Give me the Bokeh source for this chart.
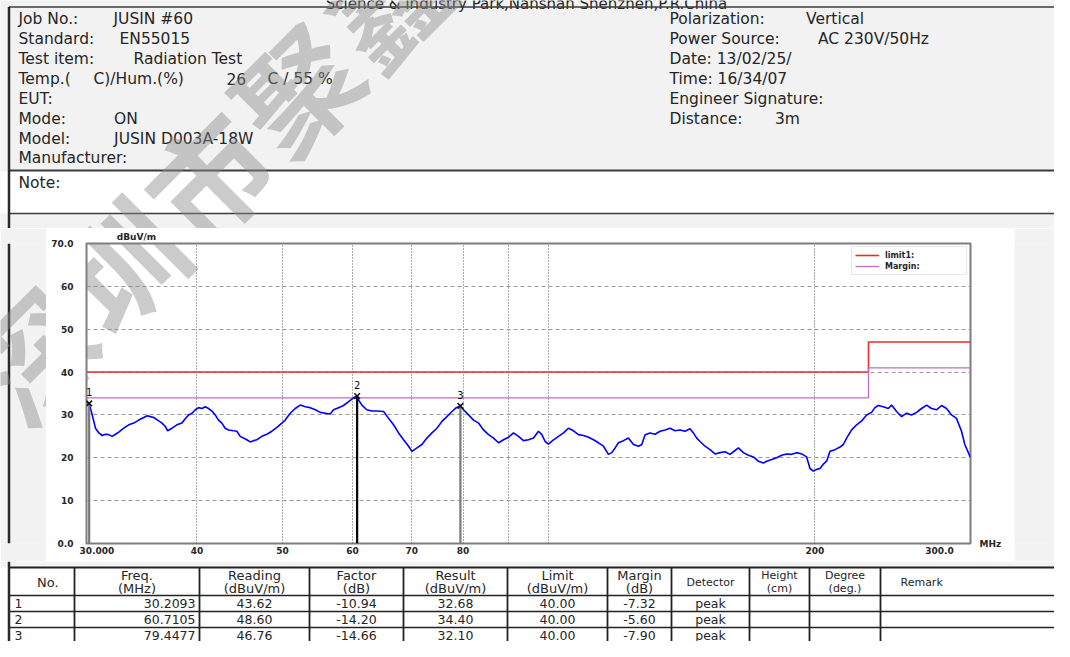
import math
from bokeh.plotting import figure
from bokeh.models import Range1d, FixedTicker, Label, LogAxis, LinearAxis
from bokeh.layouts import column, row
from bokeh.embed import file_html
from bokeh.resources import INLINE
from bokeh.core.properties import value

# ---------------- data ----------------
trace_freq = [30.00, 30.21, 30.45, 30.71, 30.98, 31.25, 31.52, 31.79, 32.07, 32.35, 32.63, 33.06,
              33.49, 33.93, 34.37, 34.83, 35.13, 35.43, 35.74, 36.21, 36.52, 36.84, 37.06, 37.48,
              37.97, 38.47, 38.80, 39.14, 39.49, 39.83, 40.17, 40.52, 40.88, 41.23, 41.59, 41.95,
              42.31, 42.68, 43.05, 43.43, 44.00, 44.38, 44.77, 45.16, 45.55, 45.95, 46.35, 46.75,
              47.37, 47.99, 48.62, 49.26, 49.90, 50.34, 51.00, 51.67, 52.35, 53.04, 53.73, 54.44,
              55.15, 55.87, 56.60, 57.09, 57.84, 58.60, 59.37, 60.14, 60.71, 60.93, 61.46, 62.26,
              63.08, 63.91, 65.04, 65.89, 66.75, 67.63, 68.52, 69.41, 70.02, 70.94, 71.87, 72.81,
              73.77, 74.74, 75.72, 76.71, 77.72, 78.60, 79.45, 80.10, 81.15, 82.21, 83.29, 84.38,
              85.49, 86.61, 87.74, 88.89, 90.06, 91.24, 92.43, 93.64, 94.87, 96.11, 97.37, 98.22,
              99.07, 99.94, 101.25, 102.58, 103.92, 105.28, 106.66, 108.06, 109.47, 110.91, 112.36,
              113.83, 115.32, 116.83, 117.85, 118.88, 119.91, 121.48, 123.07, 124.69, 126.32,
              127.42, 128.53, 130.21, 131.92, 133.64, 135.40, 137.17, 138.97, 140.79, 142.64,
              144.50, 145.76, 147.03, 148.31, 150.26, 152.22, 154.22, 156.24, 158.28, 160.36,
              162.46, 163.87, 166.02, 168.20, 170.40, 172.64, 174.90, 176.42, 178.74, 181.08,
              183.45, 185.85, 188.29, 190.75, 193.25, 195.78, 197.49, 199.21, 200.95, 202.70,
              204.47, 206.25, 208.05, 210.78, 213.54, 215.40, 217.27, 220.12, 223.00, 225.92,
              228.88, 231.87, 233.89, 235.93, 239.02, 242.15, 244.26, 247.46, 250.70, 253.98,
              257.31, 260.68, 264.09, 267.55, 271.05, 274.60, 278.19, 281.84, 285.53, 289.26,
              293.05, 295.60, 299.50, 300.00]
trace_level = [32.9, 32.7, 30.0, 26.9, 25.8, 25.2, 25.5, 25.4, 25.0, 25.5, 26.0, 26.9,
               27.7, 28.1, 28.8, 29.4, 29.8, 29.6, 29.4, 28.6, 28.1, 27.3, 26.3, 26.9,
               27.7, 28.1, 29.1, 30.0, 30.4, 31.2, 31.7, 31.5, 31.9, 31.5, 30.9, 30.0,
               28.8, 28.1, 26.9, 26.5, 26.3, 26.2, 25.0, 24.6, 24.2, 23.7, 24.0, 24.2,
               25.0, 25.5, 26.2, 27.1, 28.1, 28.8, 30.4, 31.5, 32.3, 31.9, 31.7, 31.2,
               30.6, 30.4, 30.2, 31.2, 31.7, 32.2, 33.1, 34.0, 34.4, 33.5, 32.3, 31.2,
               30.9, 30.9, 30.8, 29.2, 27.7, 25.8, 24.2, 22.7, 21.5, 22.3, 23.1, 24.6,
               25.8, 26.9, 28.5, 29.6, 30.8, 31.7, 32.1, 31.2, 30.0, 28.8, 28.1, 26.5,
               25.4, 24.6, 23.5, 24.2, 24.8, 25.8, 25.0, 24.0, 24.2, 24.6, 26.2, 25.4,
               23.8, 23.2, 24.2, 25.0, 25.8, 26.9, 26.3, 25.4, 25.2, 24.8, 24.2,
               23.5, 22.7, 20.8, 21.2, 22.3, 23.5, 24.0, 24.6, 23.1, 22.7,
               23.1, 25.4, 25.8, 25.5, 26.2, 26.5, 26.9, 26.3, 26.5, 26.2,
               26.8, 25.8, 24.6, 23.8, 22.7, 21.9, 20.9, 21.2, 21.4, 20.8,
               21.7, 22.3, 21.2, 20.6, 20.2, 19.2, 18.8, 19.2, 19.6, 20.0,
               20.6, 20.9, 20.8, 21.2, 20.9, 20.2, 17.5, 16.9, 17.3, 17.5,
               18.5, 19.2, 21.5, 21.9, 22.5, 23.1, 24.6, 26.5, 27.7, 28.6,
               30.0, 30.6, 31.7, 32.2, 31.9, 31.5, 32.3, 30.8, 29.6, 30.4,
               30.0, 30.6, 31.5, 32.3, 31.5, 31.2, 32.2, 31.5, 30.0, 29.2,
               26.2, 23.1, 20.4, 20.2]

limit_freq = [30, 230, 230, 300]
limit_level = [40, 40, 47, 47]
margin_level = [34, 34, 41, 41]

marker_no = ["1", "2", "3"]
marker_freq = [30.2093, 60.7105, 79.4477]
marker_reading = [43.62, 48.60, 46.76]
marker_factor = [-10.94, -14.20, -14.66]
marker_result = [32.68, 34.40, 32.10]
marker_limit = [40.00, 40.00, 40.00]
marker_margin = [-7.32, -5.60, -7.90]
marker_detector = ["peak", "peak", "peak"]

x_tick_text = ["30.000", "40", "50", "60", "70", "80", "200", "300.0"]
x_tick_at = [30.83, 40, 50, 60, 70, 80, 200, 276.7]   # where each label is centred
x_grid_values = [40, 50, 60, 70, 80, 90, 100, 200]
y_tick_values = [0, 10, 20, 30, 40, 50, 60, 70]
y_tick_text = ["0.0", "10", "20", "30", "40", "50", "60", "70.0"]
y_grid_values = [10, 20, 30, 40, 50, 60]
y_unit = "dBuV/m"
x_unit = "MHz"

header_left_labels = ["Job No.:", "Standard:", "Test item:", "Temp.(", "EUT:", "Mode:", "Model:", "Manufacturer:"]
header_left_values = ["JUSIN #60", "EN55015", "Radiation Test", "", "", "ON", "JUSIN D003A-18W", ""]
temp_pieces = ["C)/Hum.(%)", "26", "C / 55 %"]
header_right_labels = ["Polarization:", "Power Source:", "Date: 13/02/25/", "Time: 16/34/07", "Engineer Signature:", "Distance:"]
header_right_values = ["Vertical", "AC 230V/50Hz", "", "", "", "3m"]
top_caption = "Science & Industry Park,Nanshan Shenzhen,P.R.China"

table_head1 = ["No.", "Freq.", "Reading", "Factor", "Result", "Limit", "Margin", "Detector", "Height", "Degree", "Remark"]
table_head2 = ["", "(MHz)", "(dBuV/m)", "(dB)", "(dBuV/m)", "(dBuV/m)", "(dB)", "", "(cm)", "(deg.)", ""]

watermark_chars = ["深", "圳", "市", "聚", "鑫"]

# ---------------- layout constants (page pixels) ----------------
GRAY = "#f2f2f2"
INK = "#262626"
FONT = value("DejaVu Sans")
FX0, FX1 = 86.0, 970.0
FY70, FY0 = 243.0, 543.0
ROWS = [18.0, 38.5, 58.7, 78.7, 98.5, 118.3, 138.0, 157.0]
LEFT_VAL_X = [113, 119, 133, 0, 0, 113.6, 113.6, 0]
TEMP_X = [93, 226, 267]
RIGHT_VAL_X = [805.5, 817.5, 0, 0, 0, 774.5]
COL_EDGES = [8.5, 74, 199, 309, 403, 507, 607, 671, 749, 809, 880]
WM_X = [30, 118, 206, 294, 382]
WM_Y = [350, 262, 174, 86, -2]
BORDER_X = 8.5
CHART_X0 = 46


def page_fig(w, h, x0, x1, y0, y1, bg):
    f = figure(width=w, height=h, x_range=Range1d(x0, x1), y_range=Range1d(y1, y0),
               output_backend="svg", toolbar_location=None, min_border=0,
               x_axis_location=None, y_axis_location=None,
               background_fill_color=bg, border_fill_color=bg, outline_line_color=None)
    f.grid.visible = False
    return f


def watermark(f, idx):
    f.text(x=[WM_X[i] for i in idx], y=[WM_Y[i] for i in idx], text=[watermark_chars[i] for i in idx],
           angle=math.pi / 4, text_font=value("Noto Sans CJK SC"), text_font_style="bold",
           text_font_size="120px", text_align="center", text_baseline="middle",
           text_color="#8c8c8c", text_alpha=0.45)


# ---------------- header ----------------
hf = page_fig(1054, 228, 0, 1054, 0, 228, GRAY)
hf.quad(left=0, right=1054, top=171, bottom=213, fill_color="white", line_color=None)
hf.text(x=[526], y=[3.5], text=[top_caption], text_font=FONT, text_font_size="15px",
        text_align="center", text_baseline="alphabetic", text_color=INK)
hf.segment(x0=[BORDER_X] * 3, y0=[6.5, 170, 213], x1=[1054] * 3, y1=[6.5, 170, 213],
           line_color="#3c3c3c", line_width=[1.5, 2, 1.5])
hf.segment(x0=[BORDER_X], y0=[6.5], x1=[BORDER_X], y1=[228], line_color="#2a2a2a", line_width=2.5)

hx, hy, ht = [], [], []
for i, lab in enumerate(header_left_labels):
    hx.append(18); hy.append(ROWS[i]); ht.append(lab)
    if header_left_values[i]:
        hx.append(LEFT_VAL_X[i]); hy.append(ROWS[i]); ht.append(header_left_values[i])
for j, piece in enumerate(temp_pieces):
    hx.append(TEMP_X[j]); hy.append(ROWS[3]); ht.append(piece)
for i, lab in enumerate(header_right_labels):
    hx.append(669); hy.append(ROWS[i]); ht.append(lab)
    if header_right_values[i]:
        hx.append(RIGHT_VAL_X[i]); hy.append(ROWS[i]); ht.append(header_right_values[i])
hx.append(18); hy.append(182.3); ht.append("Note:")
hf.text(x=hx, y=hy, text=ht, text_font=FONT, text_font_size="15.5px", text_align="left",
        text_baseline="middle", text_color=INK)
watermark(hf, [1, 2, 3, 4])

# ---------------- side panels ----------------
lf = page_fig(CHART_X0, 333, 0, CHART_X0, 228, 561, GRAY)
lf.segment(x0=[BORDER_X], y0=[228], x1=[BORDER_X], y1=[561], line_color="#2a2a2a", line_width=2.5)
watermark(lf, [0])
rf = page_fig(40, 333, 1014, 1054, 228, 561, GRAY)

# ---------------- chart ----------------
cp = figure(width=1014 - CHART_X0, height=333, x_axis_type="log", x_range=Range1d(30, 300),
            y_range=Range1d(0, 70), output_backend="svg", toolbar_location=None,
            min_border_left=int(FX0 - CHART_X0), min_border_right=44, min_border_top=15, min_border_bottom=18,
            background_fill_color="white", border_fill_color="white",
            outline_line_color="#7d7d7d", outline_line_width=2)

ax_style = dict(major_tick_line_color=None, minor_tick_line_color=None, axis_line_color=None,
                major_tick_out=0, major_tick_in=0, minor_tick_out=0, minor_tick_in=0,
                major_label_text_font="DejaVu Sans", major_label_text_font_style="bold",
                major_label_text_font_size="9px", major_label_text_color=INK)
cp.xaxis.update(ticker=FixedTicker(ticks=x_tick_at),
                major_label_overrides={float(k): t for k, t in zip(x_tick_at, x_tick_text)},
                major_label_standoff=3, **ax_style)
cp.yaxis.update(ticker=FixedTicker(ticks=y_tick_values),
                major_label_overrides={float(k): t for k, t in zip(y_tick_values, y_tick_text)},
                major_label_standoff=13, **ax_style)
# unit captions carried by two extra axes
unit_y_at = [34.17]
cp.add_layout(LogAxis(ticker=FixedTicker(ticks=unit_y_at), major_label_overrides={34.17: y_unit},
                      major_label_standoff=2, **ax_style), "above")
cp.add_layout(LinearAxis(ticker=FixedTicker(ticks=[0]), major_label_overrides={0.0: x_unit},
                         major_label_standoff=9, **ax_style), "right")

cp.xgrid.ticker = FixedTicker(ticks=x_grid_values)
cp.xgrid.grid_line_color = "#555555"
cp.xgrid.grid_line_dash = "1 2"
cp.ygrid.ticker = FixedTicker(ticks=y_grid_values)
cp.ygrid.grid_line_color = "#9a9a9a"
cp.ygrid.grid_line_dash = "4 3"

cp.line(limit_freq, limit_level, line_color="#ee2b2b", line_width=1.6, legend_label="limit1:")
cp.line(limit_freq, margin_level, line_color="#c06cc8", line_width=1.3, legend_label="Margin:")
cp.line(trace_freq, trace_level, line_color="#0000ff", line_width=1.6)
cp.segment(x0=marker_freq, y0=[0, 0, 0], x1=marker_freq, y1=marker_result,
           line_color=["#7a7a7a", "#000000", "#7a7a7a"], line_width=2.2)
cp.scatter(marker_freq, marker_result, marker="x", size=8, line_color="#111111", line_width=1.5)
cp.text(marker_freq, marker_result, text=marker_no, y_offset=-11, text_font=FONT,
        text_font_size="10px", text_align="center", text_baseline="middle", text_color="#111111")

for i in (0, 1):
    fx = 30 * 10 ** ((WM_X[i] - FX0) / (FX1 - FX0))
    fy = (FY0 - WM_Y[i]) * 70 / (FY0 - FY70)
    cp.add_layout(Label(x=fx, y=fy, text=watermark_chars[i], angle=math.pi / 4,
                        text_font="Noto Sans CJK SC", text_font_style="bold", text_font_size="120px",
                        text_align="center", text_baseline="middle", text_color="#8c8c8c",
                        text_alpha=0.45))

lg = cp.legend[0]
lg.location = "top_right"
lg.margin = 3
lg.padding = 3
lg.spacing = 1
lg.glyph_width = 24
lg.glyph_height = 10
lg.label_height = 10
lg.label_width = 78
lg.label_standoff = 6
lg.label_text_font = "DejaVu Sans"
lg.label_text_font_style = "bold"
lg.label_text_font_size = "8px"
lg.label_text_color = INK
lg.border_line_color = "#cfcfcf"
lg.background_fill_color = "white"
lg.background_fill_alpha = 1.0

# ---------------- table ----------------
tf = page_fig(1054, 80, 0, 1054, 561, 641, "white")
tf.quad(left=0, right=1054, top=561, bottom=567, fill_color=GRAY, line_color=None)
hl_y = [567, 595, 611, 627, 643]
tf.segment(x0=[BORDER_X] * 5, y0=hl_y, x1=[1054] * 5, y1=hl_y, line_color="#222222",
           line_width=[2, 1.6, 1.6, 1.6, 1.6])
tf.segment(x0=COL_EDGES[1:], y0=[567] * 10, x1=COL_EDGES[1:], y1=[643] * 10,
           line_color="#222222", line_width=1.8)
tf.segment(x0=[BORDER_X], y0=[561], x1=[BORDER_X], y1=[641], line_color="#2a2a2a", line_width=2.5)

centers = [(COL_EDGES[k] + COL_EDGES[k + 1]) / 2 for k in range(10)]
tx, ty, tt, ts = [], [], [], []
for k in range(10):
    small = table_head1[k] in ("Detector", "Height", "Degree")
    size = "11px" if small else "13px"
    if table_head2[k]:
        tx += [centers[k], centers[k]]; ty += [575, 588]; tt += [table_head1[k], table_head2[k]]; ts += [size, size]
    else:
        tx.append(centers[k] + (6 if k == 0 else 0)); ty.append(581.5); tt.append(table_head1[k]); ts.append(size)
tf.text(x=tx, y=ty, text=tt, text_font=FONT, text_font_size=ts, text_align="center",
        text_baseline="middle", text_color=INK)
tf.text(x=[900], y=[581.5], text=[table_head1[10]], text_font=FONT, text_font_size="11px",
        text_align="left", text_baseline="middle", text_color=INK)

row_y = [603, 619, 635]
cx, cy, ctxt = [], [], []
for r in range(3):
    vals = [f"{marker_reading[r]:.2f}", f"{marker_factor[r]:.2f}", f"{marker_result[r]:.2f}",
            f"{marker_limit[r]:.2f}", f"{marker_margin[r]:.2f}", marker_detector[r]]
    for k, v in enumerate(vals):
        cx.append(centers[k + 2]); cy.append(row_y[r]); ctxt.append(v)
tf.text(x=cx, y=cy, text=ctxt, text_font=FONT, text_font_size="12.5px", text_align="center",
        text_baseline="middle", text_color=INK)
tf.text(x=[14] * 3, y=row_y, text=marker_no, text_font=FONT, text_font_size="12.5px",
        text_align="left", text_baseline="middle", text_color=INK)
tf.text(x=[195] * 3, y=row_y, text=[f"{v:.4f}" for v in marker_freq], text_font=FONT,
        text_font_size="12.5px", text_align="right", text_baseline="middle", text_color=INK)

layout = column(hf, row(lf, cp, rf), tf)
open("out.html", "w").write(file_html(layout, INLINE))
